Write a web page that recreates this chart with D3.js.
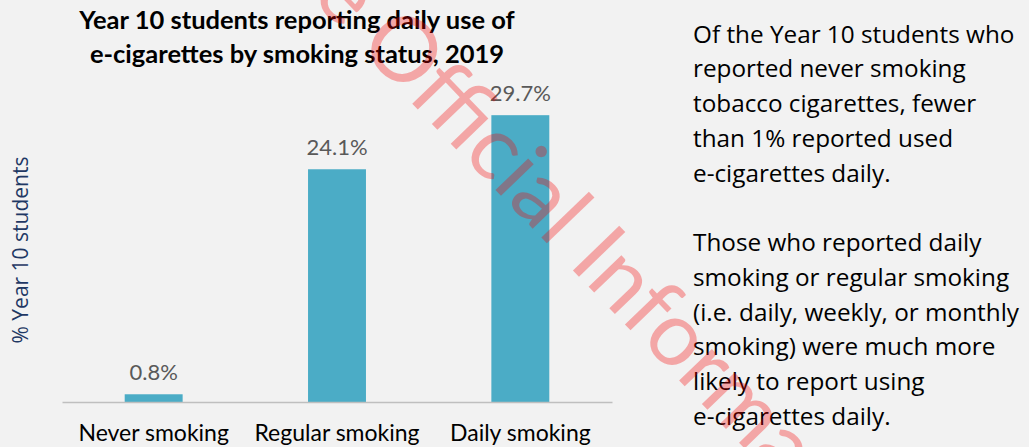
<!DOCTYPE html>
<html>
<head>
<meta charset="utf-8">
<script src="https://cdn.jsdelivr.net/npm/d3@7"></script>
<style>
  body { margin: 0; background: #f2f2f2; }
  svg { display: block; }
</style>
</head>
<body>
<svg id="svg1" width="1029" height="447"></svg>
<script>
// data
var categories = ['Never smoking', 'Regular smoking', 'Daily smoking'];
var values = [0.8, 24.1, 29.7];
var titleLines = ['Year 10 students reporting daily use of', 'e-cigarettes by smoking status, 2019'];
var yTitle = '% Year 10 students';
var note1 = ['Of the Year 10 students who', 'reported never smoking', 'tobacco cigarettes, fewer', 'than 1% reported used', 'e-cigarettes daily.'];
var note2 = ['Those who reported daily', 'smoking or regular smoking', '(i.e. daily, weekly, or monthly', 'smoking) were much more', 'likely to report using', 'e-cigarettes daily.'];
var stamp = 'Released under the Official Information Act 1982';

var svg = d3.select('svg');

var x = d3.scaleBand()
    .domain(categories)
    .range([62, 612])
    .paddingInner(0.684)
    .paddingOuter(0.342);

var y = d3.scaleLinear()
    .domain([0, 35])
    .range([402, 64]);

// title
svg.append('g').selectAll('text')
    .data(titleLines)
    .enter()
    .append('text')
    .attr('x', 297)
    .attr('y', function(d, i){ return 29 + i * 34; })
    .attr('text-anchor', 'middle')
    .style('font-family', 'Lato')
    .style('font-weight', 'bold')
    .style('font-size', '25.5px')
    .attr('fill', '#000')
    .text(function(d){ return d; });

// y axis title
svg.append('text')
    .attr('transform', 'translate(28,250) rotate(-90)')
    .attr('text-anchor', 'middle')
    .style('font-family', 'Open Sans')
    .style('font-size', '21px')
    .attr('fill', '#1f3864')
    .text(yTitle);

// bars
svg.append('g').selectAll('rect')
    .data(values)
    .enter()
    .append('rect')
    .attr('x', function(d, i){ return x(categories[i]); })
    .attr('y', function(d){ return y(d); })
    .attr('width', x.bandwidth())
    .attr('height', function(d){ return y(0) - y(d); })
    .attr('fill', '#4bacc6');

// value labels
svg.append('g').selectAll('text')
    .data(values)
    .enter()
    .append('text')
    .attr('x', function(d, i){ return x(categories[i]) + x.bandwidth() / 2; })
    .attr('y', function(d){ return y(d) - 14; })
    .attr('text-anchor', 'middle')
    .style('font-family', 'Lato')
    .style('font-size', '22px')
    .attr('fill', '#595959')
    .text(function(d){ return d.toFixed(1) + '%'; });

// category axis
var xAxis = svg.append('g')
    .attr('transform', 'translate(0,' + y(0) + ')')
    .call(d3.axisBottom(x).tickSize(0).tickPadding(0));
xAxis.select('.domain').attr('stroke', '#bfbfbf').attr('stroke-width', 1.5);
xAxis.selectAll('text')
    .attr('dy', 0)
    .attr('y', 38.5)
    .style('font-family', 'Lato')
    .style('font-size', '23px')
    .attr('fill', '#000');

// side notes
function addNote(lines, top) {
    svg.append('g').selectAll('text')
        .data(lines)
        .enter()
        .append('text')
        .attr('x', 693)
        .attr('y', function(d, i){ return top + i * 34.8; })
        .style('font-family', 'Open Sans')
        .style('font-size', '24.3px')
        .attr('fill', '#000')
        .text(function(d){ return d; });
}
addNote(note1, 42.5);
addNote(note2, 251);

// watermark stamp: fit so the "O" and the "m" sit where they are in the scan
var oAt = [403, 50], mAt = [745, 405];
var ang = Math.atan2(mAt[1] - oAt[1], mAt[0] - oAt[0]);
var ux = Math.cos(ang), uy = Math.sin(ang);
var wm = svg.append('g')
    .attr('fill', '#f80000')
    .attr('opacity', 0.31)
    .style('font-family', 'Lato');
var head = stamp.slice(0, stamp.indexOf('Official')).trim();
var tail = stamp.slice(stamp.indexOf('Official'));
var probe = wm.append('text').style('font-size', '100px').text(tail);
var node = probe.node();
var mi = tail.indexOf('m');
var eO = node.getExtentOfChar(0), eM = node.getExtentOfChar(mi);
var cO = eO.x + eO.width / 2, cM = eM.x + eM.width / 2;
var fs = 100 * Math.hypot(mAt[0] - oAt[0], mAt[1] - oAt[1]) / (cM - cO);
probe.remove();
var off = 0.34 * fs;
var ox = oAt[0] - cO * fs / 100 * ux - off * uy;
var oy = oAt[1] - cO * fs / 100 * uy + off * ux;
var wg = wm.append('g')
    .attr('transform', 'translate(' + ox + ',' + oy + ') rotate(' + (ang * 180 / Math.PI) + ')')
    .style('font-size', fs + 'px');
wg.append('text').attr('text-anchor', 'end').attr('x', -0.22 * fs).text(head);
wg.append('text').attr('text-anchor', 'start').attr('x', 0).text(tail);
</script>
</body>
</html>
